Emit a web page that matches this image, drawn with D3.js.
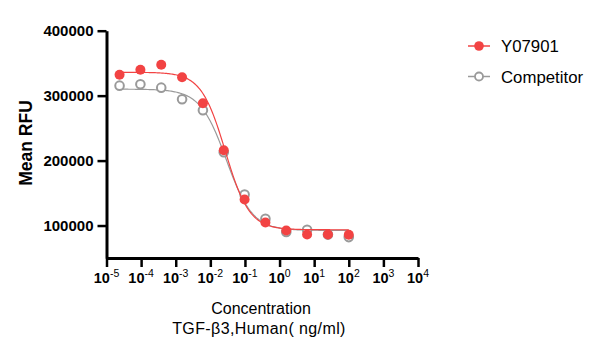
<!DOCTYPE html>
<html>
<head>
<meta charset="utf-8">
<script src="https://cdn.jsdelivr.net/npm/d3@7"></script>
<style>
  body { margin: 0; background: #fff; }
  text { font-family: "Liberation Sans", Arial, sans-serif; }
</style>
</head>
<body>
<div id="chart"></div>
<script>
// 4-fold dilution series, ng/ml
var conc = [100, 25, 6.25, 1.5625, 0.390625, 0.09765625, 0.0244140625,
            0.006103515625, 0.00152587890625, 0.0003814697265625,
            0.000095367431640625, 0.0000238418579101562];
var y07901 = [85700, 86200, 86200, 92300, 104600, 140000, 216000,
              288300, 328300, 347700, 340000, 332300];
var competitor = [82200, 86000, 93400, 90000, 110300, 147700, 212900,
                  277500, 294500, 312300, 317500, 315400];
// fitted 4PL: bottom, top, ic50, hill
var fitY07901 = [93500, 336000, 0.027, 1.25];
var fitCompetitor = [92500, 310000, 0.029, 1.15];
var xTicks = [-5, -4, -3, -2, -1, 0, 1, 2, 3, 4];
var yTicks = [100000, 200000, 300000, 400000];

var width = 602, height = 358;

var svg = d3.select("#chart")
  .append("svg")
  .attr("width", width)
  .attr("height", height);

var x = d3.scaleLog().domain([1e-5, 1e4]).range([106.5, 418]);
var y = d3.scaleLinear().domain([50000, 400000]).range([258, 30.7]);

function fourPL(p, c) {
  return p[0] + (p[1] - p[0]) / (1 + Math.pow(c / p[2], p[3]));
}

function curvePoints(p) {
  var lo = Math.log10(d3.min(conc)), hi = Math.log10(d3.max(conc));
  return d3.range(0, 201).map(function(i) {
    var c = Math.pow(10, lo + (hi - lo) * i / 200);
    return [c, fourPL(p, c)];
  });
}

var line = d3.line()
  .x(function(d) { return x(d[0]) })
  .y(function(d) { return y(d[1]) });

// y axis
var yAxis = svg.append("g")
  .attr("transform", "translate(106.5,0)")
  .call(d3.axisLeft(y).tickValues(yTicks).tickSize(9).tickSizeOuter(0).tickPadding(4)
    .tickFormat(d3.format("d")));
yAxis.select(".domain").attr("stroke-width", 3);
yAxis.selectAll(".tick line").attr("stroke-width", 2.5);
yAxis.selectAll(".tick text")
  .attr("font-size", 15)
  .attr("font-weight", "bold")
  .attr("font-family", "Liberation Sans, Arial, sans-serif")
  .attr("fill", "#000");

// x axis
var xAxis = svg.append("g")
  .attr("transform", "translate(0,258)")
  .call(d3.axisBottom(x).tickValues(xTicks.map(function(e) { return Math.pow(10, e) }))
    .tickSize(9).tickSizeOuter(0).tickFormat(""));
xAxis.select(".domain").attr("stroke-width", 3);
xAxis.selectAll(".tick line").attr("stroke-width", 2.5);

var xl = svg.append("g").selectAll("text")
  .data(xTicks)
  .enter().append("text")
  .attr("x", function(e) { return x(Math.pow(10, e)) })
  .attr("y", 283)
  .attr("text-anchor", "middle")
  .attr("font-size", 14.5)
  .attr("font-weight", "bold");
xl.append("tspan").text("10");
xl.append("tspan")
  .attr("dy", -6)
  .attr("font-size", 10.5)
  .attr("font-weight", "normal")
  .text(function(e) { return e < 0 ? "-" + (-e) : e });

// axis titles
svg.append("text")
  .attr("transform", "translate(32,143) rotate(-90)")
  .attr("text-anchor", "middle")
  .attr("font-size", 17.5)
  .attr("font-weight", "bold")
  .text("Mean RFU");

svg.append("text")
  .attr("x", 261).attr("y", 314)
  .attr("text-anchor", "middle")
  .attr("font-size", 16)
  .text("Concentration");
svg.append("text")
  .attr("x", 259).attr("y", 334)
  .attr("text-anchor", "middle")
  .attr("font-size", 16)
  .attr("letter-spacing", 0.4)
  .text("TGF-β3,Human( ng/ml)");

// series
var red = "#f24343", gray = "#9a9a9a";

svg.append("path")
  .datum(curvePoints(fitCompetitor))
  .attr("d", line)
  .attr("fill", "none")
  .attr("stroke", gray)
  .attr("stroke-width", 1.2);

svg.append("g").selectAll("circle")
  .data(competitor)
  .enter().append("circle")
  .attr("cx", function(d, i) { return x(conc[i]) })
  .attr("cy", function(d) { return y(d) })
  .attr("r", 4.3)
  .attr("fill", "#fff")
  .attr("stroke", gray)
  .attr("stroke-width", 2);

svg.append("path")
  .datum(curvePoints(fitY07901))
  .attr("d", line)
  .attr("fill", "none")
  .attr("stroke", red)
  .attr("stroke-width", 1.2);

svg.append("g").selectAll("circle")
  .data(y07901)
  .enter().append("circle")
  .attr("cx", function(d, i) { return x(conc[i]) })
  .attr("cy", function(d) { return y(d) })
  .attr("r", 5)
  .attr("fill", red);

// legend
var legend = [["Y07901", red, true], ["Competitor", gray, false]];
var lg = svg.selectAll(".legend")
  .data(legend)
  .enter().append("g")
  .attr("class", "legend")
  .attr("transform", function(d, i) { return "translate(479," + (46 + i * 30.5) + ")" });
lg.append("line")
  .attr("x1", -11).attr("x2", 11)
  .attr("stroke", function(d) { return d[1] })
  .attr("stroke-width", 1.5);
lg.append("circle")
  .attr("r", function(d) { return d[2] ? 4.8 : 4 })
  .attr("fill", function(d) { return d[2] ? d[1] : "#fff" })
  .attr("stroke", function(d) { return d[1] })
  .attr("stroke-width", function(d) { return d[2] ? 0 : 1.8 });
lg.append("text")
  .attr("x", 22)
  .attr("y", 6)
  .attr("font-size", 16.8)
  .text(function(d) { return d[0] });
</script>
</body>
</html>
